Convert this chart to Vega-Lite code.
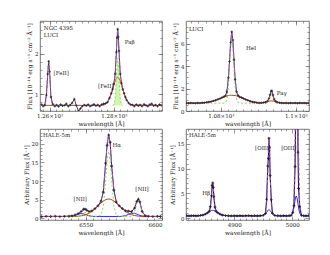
{
"$schema": "https://vega.github.io/schema/vega-lite/v6.json",
"padding": {"left": 22, "top": 20, "right": 0, "bottom": 0},
"config": {
  "view": {"stroke": "#555", "strokeWidth": 0.8},
  "axis": {"labelFont": "DejaVu Serif", "labelFontSize": 5.5, "titleFont": "DejaVu Serif", "titleFontSize": 6, "titleFontWeight": "normal", "labelColor": "#222", "titleColor": "#222", "tickColor": "#555", "tickWidth": 0.6, "grid": false, "domain": false, "labelPadding": 6, "tickSize": -4, "titlePadding": 2},
  "text": {"font": "DejaVu Serif", "fontSize": 5.5, "color": "#222"}
},
"datasets": {
  "p1": [
    {"x":12575,"y":0.74,"s":"o"},{"x":12580,"y":0.70,"s":"o"},{"x":12585,"y":0.73,"s":"o"},{"x":12590,"y":0.98,"s":"o"},{"x":12594,"y":1.50,"s":"o"},{"x":12597,"y":1.82,"s":"o"},{"x":12600,"y":1.56,"s":"o"},{"x":12604,"y":0.93,"s":"o"},{"x":12610,"y":0.75,"s":"o"},{"x":12616,"y":0.70,"s":"o"},{"x":12622,"y":0.73,"s":"o"},{"x":12628,"y":0.69,"s":"o"},{"x":12634,"y":0.74,"s":"o"},{"x":12640,"y":0.71,"s":"o"},{"x":12646,"y":0.72,"s":"o"},{"x":12652,"y":0.76,"s":"o"},{"x":12658,"y":0.70,"s":"o"},{"x":12664,"y":0.73,"s":"o"},{"x":12670,"y":0.78,"s":"o"},{"x":12677,"y":0.88,"s":"o"},{"x":12683,"y":0.72,"s":"o"},{"x":12690,"y":0.58,"s":"o"},{"x":12696,"y":0.64,"s":"o"},{"x":12702,"y":0.70,"s":"o"},{"x":12708,"y":0.73,"s":"o"},{"x":12714,"y":0.71,"s":"o"},{"x":12720,"y":0.74,"s":"o"},{"x":12726,"y":0.70,"s":"o"},{"x":12732,"y":0.72,"s":"o"},{"x":12738,"y":0.75,"s":"o"},{"x":12744,"y":0.71,"s":"o"},{"x":12750,"y":0.73,"s":"o"},{"x":12756,"y":0.70,"s":"o"},{"x":12762,"y":0.74,"s":"o"},{"x":12768,"y":0.76,"s":"o"},{"x":12774,"y":0.77,"s":"o"},{"x":12780,"y":0.80,"s":"o"},{"x":12786,"y":0.90,"s":"o"},{"x":12792,"y":1.02,"s":"o"},{"x":12796,"y":1.12,"s":"o"},{"x":12800,"y":1.25,"s":"o"},{"x":12804,"y":1.50,"s":"o"},{"x":12808,"y":2.05,"s":"o"},{"x":12810,"y":2.40,"s":"o"},{"x":12812,"y":2.62,"s":"o"},{"x":12814,"y":2.42,"s":"o"},{"x":12816,"y":2.08,"s":"o"},{"x":12820,"y":1.50,"s":"o"},{"x":12824,"y":1.27,"s":"o"},{"x":12828,"y":1.12,"s":"o"},{"x":12832,"y":1.02,"s":"o"},{"x":12836,"y":0.92,"s":"o"},{"x":12840,"y":0.85,"s":"o"},{"x":12846,"y":0.78,"s":"o"},{"x":12852,"y":0.74,"s":"o"},{"x":12858,"y":0.73,"s":"o"},{"x":12864,"y":0.70,"s":"o"},{"x":12870,"y":0.74,"s":"o"},{"x":12876,"y":0.71,"s":"o"},{"x":12882,"y":0.73,"s":"o"},{"x":12888,"y":0.70,"s":"o"},{"x":12894,"y":0.75,"s":"o"},{"x":12900,"y":0.72,"s":"o"},{"x":12906,"y":0.70,"s":"o"},{"x":12912,"y":0.74,"s":"o"},{"x":12918,"y":0.76,"s":"o"},{"x":12924,"y":0.71,"s":"o"},{"x":12930,"y":0.73,"s":"o"},{"x":12936,"y":0.70,"s":"o"},{"x":12942,"y":0.74,"s":"o"},{"x":12948,"y":0.72,"s":"o"},
    {"x":12575,"y":0.72,"s":"m"},{"x":12583,"y":0.72,"s":"m"},{"x":12588,"y":0.806,"s":"m"},{"x":12590,"y":0.96,"s":"m"},{"x":12592,"y":1.215,"s":"m"},{"x":12594,"y":1.53,"s":"m"},{"x":12596,"y":1.767,"s":"m"},{"x":12597,"y":1.80,"s":"m"},{"x":12598,"y":1.767,"s":"m"},{"x":12600,"y":1.53,"s":"m"},{"x":12602,"y":1.215,"s":"m"},{"x":12604,"y":0.96,"s":"m"},{"x":12606,"y":0.806,"s":"m"},{"x":12610,"y":0.73,"s":"m"},{"x":12620,"y":0.72,"s":"m"},{"x":12760,"y":0.72,"s":"m"},{"x":12770,"y":0.734,"s":"m"},{"x":12780,"y":0.79,"s":"m"},{"x":12788,"y":0.915,"s":"m"},{"x":12795,"y":1.088,"s":"m"},{"x":12800,"y":1.241,"s":"m"},{"x":12804,"y":1.487,"s":"m"},{"x":12808,"y":2.111,"s":"m"},{"x":12810,"y":2.45,"s":"m"},{"x":12812,"y":2.60,"s":"m"},{"x":12814,"y":2.45,"s":"m"},{"x":12816,"y":2.111,"s":"m"},{"x":12820,"y":1.487,"s":"m"},{"x":12824,"y":1.241,"s":"m"},{"x":12826,"y":1.173,"s":"m"},{"x":12832,"y":1.008,"s":"m"},{"x":12840,"y":0.843,"s":"m"},{"x":12850,"y":0.748,"s":"m"},{"x":12860,"y":0.724,"s":"m"},{"x":12948,"y":0.72,"s":"m"},
    {"x":12575,"y":0.72,"s":"b"},{"x":12760,"y":0.72,"s":"b"},{"x":12770,"y":0.734,"s":"b"},{"x":12780,"y":0.79,"s":"b"},{"x":12788,"y":0.915,"s":"b"},{"x":12795,"y":1.088,"s":"b"},{"x":12800,"y":1.228,"s":"b"},{"x":12804,"y":1.327,"s":"b"},{"x":12808,"y":1.395,"s":"b"},{"x":12812,"y":1.42,"s":"b"},{"x":12816,"y":1.395,"s":"b"},{"x":12820,"y":1.327,"s":"b"},{"x":12826,"y":1.173,"s":"b"},{"x":12832,"y":1.008,"s":"b"},{"x":12840,"y":0.843,"s":"b"},{"x":12850,"y":0.748,"s":"b"},{"x":12860,"y":0.724,"s":"b"},{"x":12948,"y":0.72,"s":"b"},
    {"x":12796,"y":0.72,"s":"n"},{"x":12800,"y":0.733,"s":"n"},{"x":12804,"y":0.88,"s":"n"},{"x":12808,"y":1.436,"s":"n"},{"x":12810,"y":1.76,"s":"n"},{"x":12812,"y":1.90,"s":"n"},{"x":12814,"y":1.76,"s":"n"},{"x":12816,"y":1.436,"s":"n"},{"x":12820,"y":0.88,"s":"n"},{"x":12824,"y":0.733,"s":"n"},{"x":12828,"y":0.72,"s":"n"}
  ],
  "t1": [
    {"x":12582,"y":2.65,"t":"NGC 4395"},{"x":12582,"y":2.47,"t":"LUCI"},{"x":12612,"y":1.53,"t":"[FeII]"},{"x":12751,"y":1.2,"t":"[FeII]"},{"x":12834,"y":2.3,"t":"Paβ"}
  ],
  "p2": [
    {"x":10708,"y":0.71,"s":"o"},{"x":10714,"y":0.69,"s":"o"},{"x":10720,"y":0.72,"s":"o"},{"x":10726,"y":0.70,"s":"o"},{"x":10732,"y":0.68,"s":"o"},{"x":10738,"y":0.72,"s":"o"},{"x":10744,"y":0.70,"s":"o"},{"x":10750,"y":0.73,"s":"o"},{"x":10756,"y":0.74,"s":"o"},{"x":10762,"y":0.77,"s":"o"},{"x":10768,"y":0.80,"s":"o"},{"x":10774,"y":0.84,"s":"o"},{"x":10780,"y":0.90,"s":"o"},{"x":10786,"y":0.95,"s":"o"},{"x":10792,"y":1.04,"s":"o"},{"x":10798,"y":1.10,"s":"o"},{"x":10803,"y":1.20,"s":"o"},{"x":10808,"y":1.26,"s":"o"},{"x":10812,"y":1.36,"s":"o"},{"x":10816,"y":1.72,"s":"o"},{"x":10820,"y":2.95,"s":"o"},{"x":10823,"y":4.40,"s":"o"},{"x":10826,"y":6.10,"s":"o"},{"x":10829,"y":7.05,"s":"o"},{"x":10832,"y":6.30,"s":"o"},{"x":10835,"y":4.55,"s":"o"},{"x":10838,"y":2.80,"s":"o"},{"x":10842,"y":1.72,"s":"o"},{"x":10846,"y":1.38,"s":"o"},{"x":10850,"y":1.25,"s":"o"},{"x":10855,"y":1.20,"s":"o"},{"x":10860,"y":1.12,"s":"o"},{"x":10866,"y":1.02,"s":"o"},{"x":10872,"y":0.95,"s":"o"},{"x":10878,"y":0.86,"s":"o"},{"x":10884,"y":0.80,"s":"o"},{"x":10890,"y":0.77,"s":"o"},{"x":10896,"y":0.74,"s":"o"},{"x":10902,"y":0.72,"s":"o"},{"x":10908,"y":0.73,"s":"o"},{"x":10914,"y":0.75,"s":"o"},{"x":10919,"y":0.78,"s":"o"},{"x":10924,"y":0.87,"s":"o"},{"x":10928,"y":1.10,"s":"o"},{"x":10931,"y":1.45,"s":"o"},{"x":10934,"y":1.78,"s":"o"},{"x":10936,"y":1.80,"s":"o"},{"x":10939,"y":1.42,"s":"o"},{"x":10942,"y":1.05,"s":"o"},{"x":10946,"y":0.86,"s":"o"},{"x":10950,"y":0.78,"s":"o"},{"x":10956,"y":0.74,"s":"o"},{"x":10962,"y":0.71,"s":"o"},{"x":10968,"y":0.70,"s":"o"},{"x":10974,"y":0.72,"s":"o"},{"x":10980,"y":0.69,"s":"o"},{"x":10986,"y":0.71,"s":"o"},{"x":10992,"y":0.70,"s":"o"},{"x":10998,"y":0.72,"s":"o"},{"x":11004,"y":0.69,"s":"o"},{"x":11010,"y":0.71,"s":"o"},{"x":11016,"y":0.70,"s":"o"},{"x":11022,"y":0.72,"s":"o"},{"x":11028,"y":0.69,"s":"o"},{"x":11034,"y":0.71,"s":"o"},
    {"x":10708,"y":0.70,"s":"m"},{"x":10720,"y":0.701,"s":"m"},{"x":10730,"y":0.703,"s":"m"},{"x":10740,"y":0.709,"s":"m"},{"x":10750,"y":0.722,"s":"m"},{"x":10760,"y":0.75,"s":"m"},{"x":10770,"y":0.80,"s":"m"},{"x":10780,"y":0.88,"s":"m"},{"x":10790,"y":1.00,"s":"m"},{"x":10800,"y":1.14,"s":"m"},{"x":10806,"y":1.22,"s":"m"},{"x":10812,"y":1.347,"s":"m"},{"x":10816,"y":1.68,"s":"m"},{"x":10820,"y":2.84,"s":"m"},{"x":10823,"y":4.476,"s":"m"},{"x":10826,"y":6.227,"s":"m"},{"x":10829,"y":7.0,"s":"m"},{"x":10832,"y":6.227,"s":"m"},{"x":10835,"y":4.476,"s":"m"},{"x":10838,"y":2.84,"s":"m"},{"x":10842,"y":1.68,"s":"m"},{"x":10846,"y":1.347,"s":"m"},{"x":10852,"y":1.22,"s":"m"},{"x":10860,"y":1.11,"s":"m"},{"x":10870,"y":0.975,"s":"m"},{"x":10880,"y":0.865,"s":"m"},{"x":10890,"y":0.789,"s":"m"},{"x":10900,"y":0.743,"s":"m"},{"x":10910,"y":0.718,"s":"m"},{"x":10918,"y":0.777,"s":"m"},{"x":10925,"y":0.881,"s":"m"},{"x":10930,"y":1.293,"s":"m"},{"x":10935,"y":1.80,"s":"m"},{"x":10940,"y":1.293,"s":"m"},{"x":10945,"y":0.881,"s":"m"},{"x":10952,"y":0.773,"s":"m"},{"x":10960,"y":0.723,"s":"m"},{"x":10970,"y":0.70,"s":"m"},{"x":11034,"y":0.70,"s":"m"},
    {"x":10708,"y":0.70,"s":"b"},{"x":10740,"y":0.709,"s":"b"},{"x":10760,"y":0.75,"s":"b"},{"x":10770,"y":0.80,"s":"b"},{"x":10780,"y":0.88,"s":"b"},{"x":10790,"y":1.00,"s":"b"},{"x":10800,"y":1.14,"s":"b"},{"x":10806,"y":1.22,"s":"b"},{"x":10812,"y":1.30,"s":"b"},{"x":10816,"y":1.34,"s":"b"},{"x":10820,"y":1.37,"s":"b"},{"x":10823,"y":1.386,"s":"b"},{"x":10826,"y":1.397,"s":"b"},{"x":10829,"y":1.40,"s":"b"},{"x":10832,"y":1.397,"s":"b"},{"x":10835,"y":1.386,"s":"b"},{"x":10838,"y":1.37,"s":"b"},{"x":10842,"y":1.34,"s":"b"},{"x":10846,"y":1.30,"s":"b"},{"x":10852,"y":1.22,"s":"b"},{"x":10860,"y":1.11,"s":"b"},{"x":10870,"y":0.975,"s":"b"},{"x":10880,"y":0.865,"s":"b"},{"x":10890,"y":0.789,"s":"b"},{"x":10900,"y":0.743,"s":"b"},{"x":10910,"y":0.718,"s":"b"},{"x":10918,"y":0.777,"s":"b"},{"x":10925,"y":0.841,"s":"b"},{"x":10930,"y":0.883,"s":"b"},{"x":10935,"y":0.90,"s":"b"},{"x":10940,"y":0.883,"s":"b"},{"x":10945,"y":0.841,"s":"b"},{"x":10952,"y":0.773,"s":"b"},{"x":10960,"y":0.723,"s":"b"},{"x":10970,"y":0.70,"s":"b"},{"x":11034,"y":0.70,"s":"b"},
    {"x":10708,"y":0.70,"s":"n"},{"x":10808,"y":0.70,"s":"n"},{"x":10812,"y":0.747,"s":"n"},{"x":10816,"y":1.04,"s":"n"},{"x":10820,"y":2.17,"s":"n"},{"x":10823,"y":3.79,"s":"n"},{"x":10826,"y":5.53,"s":"n"},{"x":10829,"y":6.30,"s":"n"},{"x":10832,"y":5.53,"s":"n"},{"x":10835,"y":3.79,"s":"n"},{"x":10838,"y":2.17,"s":"n"},{"x":10842,"y":1.04,"s":"n"},{"x":10846,"y":0.747,"s":"n"},{"x":10852,"y":0.70,"s":"n"},{"x":10920,"y":0.70,"s":"n"},{"x":10925,"y":0.74,"s":"n"},{"x":10930,"y":1.11,"s":"n"},{"x":10935,"y":1.60,"s":"n"},{"x":10940,"y":1.11,"s":"n"},{"x":10945,"y":0.74,"s":"n"},{"x":10952,"y":0.70,"s":"n"},{"x":11034,"y":0.70,"s":"n"}
  ],
  "t2": [
    {"x":10715,"y":7.3,"t":"LUCI"},{"x":10867,"y":5.6,"t":"HeI"},{"x":10949,"y":1.6,"t":"Paγ"}
  ],
  "p3": [
    {"x":6521,"y":0.40,"s":"o"},{"x":6524,"y":0.47,"s":"o"},{"x":6527,"y":0.44,"s":"o"},{"x":6530,"y":0.50,"s":"o"},{"x":6533,"y":0.43,"s":"o"},{"x":6536,"y":0.48,"s":"o"},{"x":6539,"y":0.52,"s":"o"},{"x":6541,"y":0.60,"s":"o"},{"x":6543,"y":0.85,"s":"o"},{"x":6545,"y":1.20,"s":"o"},{"x":6547,"y":1.80,"s":"o"},{"x":6548.5,"y":2.40,"s":"o"},{"x":6549.5,"y":2.45,"s":"o"},{"x":6550.5,"y":2.20,"s":"o"},{"x":6552,"y":1.80,"s":"o"},{"x":6554,"y":1.95,"s":"o"},{"x":6556,"y":2.55,"s":"o"},{"x":6558,"y":3.30,"s":"o"},{"x":6560,"y":4.60,"s":"o"},{"x":6561.5,"y":7.0,"s":"o"},{"x":6563,"y":14.8,"s":"o"},{"x":6564,"y":19.6,"s":"o"},{"x":6565,"y":22.4,"s":"o"},{"x":6566,"y":20.4,"s":"o"},{"x":6567,"y":14.0,"s":"o"},{"x":6568.5,"y":7.5,"s":"o"},{"x":6570,"y":4.3,"s":"o"},{"x":6572,"y":3.3,"s":"o"},{"x":6574,"y":2.6,"s":"o"},{"x":6576,"y":2.0,"s":"o"},{"x":6578,"y":1.9,"s":"o"},{"x":6580,"y":1.75,"s":"o"},{"x":6582,"y":2.7,"s":"o"},{"x":6583.5,"y":4.5,"s":"o"},{"x":6584.5,"y":5.1,"s":"o"},{"x":6585.5,"y":4.4,"s":"o"},{"x":6587,"y":1.8,"s":"o"},{"x":6589,"y":0.62,"s":"o"},{"x":6591,"y":0.48,"s":"o"},{"x":6594,"y":0.43,"s":"o"},{"x":6597,"y":0.47,"s":"o"},{"x":6599,"y":0.44,"s":"o"},
    {"x":6521,"y":0.45,"s":"m"},{"x":6535,"y":0.45,"s":"m"},{"x":6540,"y":0.51,"s":"m"},{"x":6543,"y":0.81,"s":"m"},{"x":6545,"y":1.18,"s":"m"},{"x":6547,"y":1.69,"s":"m"},{"x":6548.5,"y":2.32,"s":"m"},{"x":6549.5,"y":2.52,"s":"m"},{"x":6550.5,"y":2.29,"s":"m"},{"x":6552,"y":1.76,"s":"m"},{"x":6554,"y":1.88,"s":"m"},{"x":6556,"y":2.52,"s":"m"},{"x":6558,"y":3.31,"s":"m"},{"x":6560,"y":4.46,"s":"m"},{"x":6561.5,"y":7.26,"s":"m"},{"x":6563,"y":14.42,"s":"m"},{"x":6564,"y":20.1,"s":"m"},{"x":6565,"y":22.65,"s":"m"},{"x":6566,"y":20.1,"s":"m"},{"x":6567,"y":14.42,"s":"m"},{"x":6568.5,"y":7.26,"s":"m"},{"x":6570,"y":4.46,"s":"m"},{"x":6572,"y":3.30,"s":"m"},{"x":6574,"y":2.57,"s":"m"},{"x":6576,"y":2.04,"s":"m"},{"x":6578,"y":1.84,"s":"m"},{"x":6580,"y":1.82,"s":"m"},{"x":6582,"y":2.62,"s":"m"},{"x":6583.5,"y":4.67,"s":"m"},{"x":6584.5,"y":5.31,"s":"m"},{"x":6585.5,"y":4.24,"s":"m"},{"x":6587,"y":1.67,"s":"m"},{"x":6589,"y":0.54,"s":"m"},{"x":6592,"y":0.45,"s":"m"},{"x":6599,"y":0.45,"s":"m"},
    {"x":6521,"y":0.45,"s":"b"},{"x":6535,"y":0.45,"s":"b"},{"x":6540,"y":0.458,"s":"b"},{"x":6543,"y":0.484,"s":"b"},{"x":6545,"y":0.53,"s":"b"},{"x":6547,"y":0.62,"s":"b"},{"x":6548.5,"y":0.74,"s":"b"},{"x":6549.5,"y":0.85,"s":"b"},{"x":6550.5,"y":1.00,"s":"b"},{"x":6552,"y":1.29,"s":"b"},{"x":6554,"y":1.82,"s":"b"},{"x":6556,"y":2.51,"s":"b"},{"x":6558,"y":3.30,"s":"b"},{"x":6560,"y":4.09,"s":"b"},{"x":6561.5,"y":4.60,"s":"b"},{"x":6563,"y":4.96,"s":"b"},{"x":6564,"y":5.10,"s":"b"},{"x":6565,"y":5.15,"s":"b"},{"x":6566,"y":5.10,"s":"b"},{"x":6567,"y":4.96,"s":"b"},{"x":6568.5,"y":4.60,"s":"b"},{"x":6570,"y":4.09,"s":"b"},{"x":6572,"y":3.30,"s":"b"},{"x":6574,"y":2.51,"s":"b"},{"x":6576,"y":1.82,"s":"b"},{"x":6578,"y":1.29,"s":"b"},{"x":6580,"y":0.92,"s":"b"},{"x":6582,"y":0.70,"s":"b"},{"x":6584.5,"y":0.547,"s":"b"},{"x":6587,"y":0.484,"s":"b"},{"x":6589,"y":0.463,"s":"b"},{"x":6592,"y":0.45,"s":"b"},{"x":6599,"y":0.45,"s":"b"},
    {"x":6521,"y":0.45,"s":"n"},{"x":6545,"y":0.46,"s":"n"},{"x":6547,"y":0.72,"s":"n"},{"x":6548.5,"y":1.33,"s":"n"},{"x":6549.5,"y":1.55,"s":"n"},{"x":6550.5,"y":1.33,"s":"n"},{"x":6552,"y":0.72,"s":"n"},{"x":6554,"y":0.46,"s":"n"},{"x":6558,"y":0.46,"s":"n"},{"x":6560,"y":0.82,"s":"n"},{"x":6561.5,"y":3.11,"s":"n"},{"x":6563,"y":9.91,"s":"n"},{"x":6564,"y":15.45,"s":"n"},{"x":6565,"y":17.95,"s":"n"},{"x":6566,"y":15.45,"s":"n"},{"x":6567,"y":9.91,"s":"n"},{"x":6568.5,"y":3.11,"s":"n"},{"x":6570,"y":0.82,"s":"n"},{"x":6572,"y":0.45,"s":"n"},{"x":6580,"y":0.50,"s":"n"},{"x":6582,"y":1.52,"s":"n"},{"x":6583.5,"y":3.89,"s":"n"},{"x":6584.5,"y":4.75,"s":"n"},{"x":6585.5,"y":3.89,"s":"n"},{"x":6587,"y":1.52,"s":"n"},{"x":6589,"y":0.50,"s":"n"},{"x":6599,"y":0.45,"s":"n"},
    {"x":6521,"y":0.45,"s":"u"},{"x":6538,"y":0.45,"s":"u"},{"x":6540,"y":0.50,"s":"u"},{"x":6543,"y":0.78,"s":"u"},{"x":6545,"y":1.09,"s":"u"},{"x":6547,"y":1.25,"s":"u"},{"x":6548.5,"y":1.15,"s":"u"},{"x":6549.5,"y":1.02,"s":"u"},{"x":6550.5,"y":0.86,"s":"u"},{"x":6552,"y":0.65,"s":"u"},{"x":6554,"y":0.50,"s":"u"},{"x":6556,"y":0.46,"s":"u"},{"x":6572,"y":0.45,"s":"u"},{"x":6574,"y":0.51,"s":"u"},{"x":6576,"y":0.67,"s":"u"},{"x":6578,"y":1.00,"s":"u"},{"x":6580,"y":1.30,"s":"u"},{"x":6582,"y":1.30,"s":"u"},{"x":6583.5,"y":1.09,"s":"u"},{"x":6584.5,"y":0.91,"s":"u"},{"x":6585.5,"y":0.74,"s":"u"},{"x":6587,"y":0.57,"s":"u"},{"x":6589,"y":0.48,"s":"u"},{"x":6599,"y":0.45,"s":"u"}
  ],
  "t3": [
    {"x":6522,"y":22.4,"t":"HALE-5m"},{"x":6567.5,"y":19.7,"t":"Hα"},{"x":6542,"y":5.2,"t":"[NII]"},{"x":6582.5,"y":7.8,"t":"[NII]"}
  ],
  "p4": [
    {"x":4818,"y":0.48,"s":"o"},{"x":4822,"y":0.42,"s":"o"},{"x":4826,"y":0.46,"s":"o"},{"x":4830,"y":0.50,"s":"o"},{"x":4834,"y":0.44,"s":"o"},{"x":4838,"y":0.47,"s":"o"},{"x":4842,"y":0.52,"s":"o"},{"x":4846,"y":0.60,"s":"o"},{"x":4850,"y":0.78,"s":"o"},{"x":4854,"y":1.05,"s":"o"},{"x":4857,"y":1.35,"s":"o"},{"x":4859,"y":2.3,"s":"o"},{"x":4861,"y":4.5,"s":"o"},{"x":4862,"y":6.6,"s":"o"},{"x":4863,"y":7.1,"s":"o"},{"x":4864,"y":6.2,"s":"o"},{"x":4865,"y":4.3,"s":"o"},{"x":4867,"y":2.2,"s":"o"},{"x":4869,"y":1.35,"s":"o"},{"x":4872,"y":1.05,"s":"o"},{"x":4876,"y":0.78,"s":"o"},{"x":4880,"y":0.58,"s":"o"},{"x":4885,"y":0.50,"s":"o"},{"x":4890,"y":0.46,"s":"o"},{"x":4895,"y":0.42,"s":"o"},{"x":4900,"y":0.47,"s":"o"},{"x":4905,"y":0.44,"s":"o"},{"x":4910,"y":0.49,"s":"o"},{"x":4915,"y":0.43,"s":"o"},{"x":4920,"y":0.46,"s":"o"},{"x":4925,"y":0.50,"s":"o"},{"x":4930,"y":0.44,"s":"o"},{"x":4935,"y":0.47,"s":"o"},{"x":4940,"y":0.43,"s":"o"},{"x":4945,"y":0.48,"s":"o"},{"x":4950,"y":0.55,"s":"o"},{"x":4954,"y":0.92,"s":"o"},{"x":4956,"y":3.8,"s":"o"},{"x":4958,"y":10.5,"s":"o"},{"x":4959,"y":12.0,"s":"o"},{"x":4960,"y":16.1,"s":"o"},{"x":4961,"y":14.3,"s":"o"},{"x":4962,"y":8.6,"s":"o"},{"x":4964,"y":3.7,"s":"o"},{"x":4966,"y":0.95,"s":"o"},{"x":4970,"y":0.52,"s":"o"},{"x":4975,"y":0.46,"s":"o"},{"x":4980,"y":0.43,"s":"o"},{"x":4985,"y":0.48,"s":"o"},{"x":4990,"y":0.44,"s":"o"},{"x":4995,"y":0.47,"s":"o"},{"x":4998,"y":0.52,"s":"o"},{"x":5001,"y":1.1,"s":"o"},{"x":5003,"y":2.5,"s":"o"},{"x":5005,"y":10.4,"s":"o"},{"x":5006,"y":20.0,"s":"o"},{"x":5007,"y":35.0,"s":"o"},{"x":5008,"y":45.0,"s":"o"},{"x":5009,"y":40.0,"s":"o"},{"x":5010,"y":13.3,"s":"o"},{"x":5011,"y":6.0,"s":"o"},{"x":5013,"y":2.3,"s":"o"},{"x":5016,"y":0.55,"s":"o"},{"x":5020,"y":0.46,"s":"o"},{"x":5024,"y":0.43,"s":"o"},{"x":5028,"y":0.47,"s":"o"},
    {"x":4818,"y":0.45,"s":"m"},{"x":4832,"y":0.45,"s":"m"},{"x":4840,"y":0.47,"s":"m"},{"x":4846,"y":0.57,"s":"m"},{"x":4850,"y":0.74,"s":"m"},{"x":4854,"y":1.03,"s":"m"},{"x":4857,"y":1.30,"s":"m"},{"x":4859,"y":1.90,"s":"m"},{"x":4861,"y":4.60,"s":"m"},{"x":4862,"y":6.42,"s":"m"},{"x":4863,"y":7.25,"s":"m"},{"x":4864,"y":6.42,"s":"m"},{"x":4865,"y":4.60,"s":"m"},{"x":4867,"y":1.90,"s":"m"},{"x":4869,"y":1.30,"s":"m"},{"x":4872,"y":1.03,"s":"m"},{"x":4876,"y":0.74,"s":"m"},{"x":4882,"y":0.52,"s":"m"},{"x":4890,"y":0.45,"s":"m"},{"x":4946,"y":0.45,"s":"m"},{"x":4950,"y":0.50,"s":"m"},{"x":4954,"y":0.90,"s":"m"},{"x":4956,"y":2.42,"s":"m"},{"x":4958,"y":9.39,"s":"m"},{"x":4959,"y":14.11,"s":"m"},{"x":4960,"y":16.25,"s":"m"},{"x":4961,"y":14.11,"s":"m"},{"x":4962,"y":9.39,"s":"m"},{"x":4964,"y":2.42,"s":"m"},{"x":4966,"y":0.90,"s":"m"},{"x":4970,"y":0.50,"s":"m"},{"x":4976,"y":0.45,"s":"m"},{"x":4992,"y":0.45,"s":"m"},{"x":4998,"y":0.49,"s":"m"},{"x":5001,"y":1.02,"s":"m"},{"x":5003,"y":3.09,"s":"m"},{"x":5005,"y":15.45,"s":"m"},{"x":5006,"y":29.6,"s":"m"},{"x":5007,"y":44.8,"s":"m"},{"x":5008,"y":51.2,"s":"m"},{"x":5009,"y":43.95,"s":"m"},{"x":5010,"y":28.3,"s":"m"},{"x":5011,"y":13.9,"s":"m"},{"x":5013,"y":1.99,"s":"m"},{"x":5016,"y":0.49,"s":"m"},{"x":5020,"y":0.45,"s":"m"},{"x":5028,"y":0.45,"s":"m"},
    {"x":4818,"y":0.45,"s":"u"},{"x":4832,"y":0.45,"s":"u"},{"x":4840,"y":0.468,"s":"u"},{"x":4846,"y":0.565,"s":"u"},{"x":4850,"y":0.74,"s":"u"},{"x":4854,"y":1.03,"s":"u"},{"x":4857,"y":1.28,"s":"u"},{"x":4859,"y":1.42,"s":"u"},{"x":4861,"y":1.52,"s":"u"},{"x":4862,"y":1.54,"s":"u"},{"x":4863,"y":1.55,"s":"u"},{"x":4864,"y":1.54,"s":"u"},{"x":4865,"y":1.52,"s":"u"},{"x":4867,"y":1.42,"s":"u"},{"x":4869,"y":1.28,"s":"u"},{"x":4872,"y":1.03,"s":"u"},{"x":4876,"y":0.74,"s":"u"},{"x":4882,"y":0.516,"s":"u"},{"x":4890,"y":0.45,"s":"u"},{"x":4946,"y":0.45,"s":"u"},{"x":4950,"y":0.50,"s":"u"},{"x":4954,"y":0.84,"s":"u"},{"x":4956,"y":1.18,"s":"u"},{"x":4958,"y":1.51,"s":"u"},{"x":4959,"y":1.61,"s":"u"},{"x":4960,"y":1.65,"s":"u"},{"x":4961,"y":1.61,"s":"u"},{"x":4962,"y":1.51,"s":"u"},{"x":4964,"y":1.18,"s":"u"},{"x":4966,"y":0.84,"s":"u"},{"x":4970,"y":0.50,"s":"u"},{"x":4976,"y":0.45,"s":"u"},{"x":4996,"y":0.45,"s":"u"},{"x":4998,"y":0.49,"s":"u"},{"x":5001,"y":0.99,"s":"u"},{"x":5003,"y":2.09,"s":"u"},{"x":5005,"y":3.65,"s":"u"},{"x":5006,"y":4.23,"s":"u"},{"x":5007,"y":4.45,"s":"u"},{"x":5008,"y":4.23,"s":"u"},{"x":5009,"y":3.65,"s":"u"},{"x":5010,"y":2.88,"s":"u"},{"x":5011,"y":2.09,"s":"u"},{"x":5013,"y":0.99,"s":"u"},{"x":5016,"y":0.49,"s":"u"},{"x":5020,"y":0.45,"s":"u"},{"x":5028,"y":0.45,"s":"u"}
  ],
  "t4": [
    {"x":4822,"y":16.8,"t":"HALE-5m"},{"x":4845,"y":5.1,"t":"Hβ"},{"x":4936,"y":14.2,"t":"[OIII]"},{"x":4981,"y":14.2,"t":"[OIII]"}
  ]
},
"columns": 2,
"spacing": {"row": 18, "column": 24},
"bounds": "flush",
"concat": [
  {
    "width": 122, "height": 90,
    "resolve": {"axis": {"x": "independent", "y": "independent"}},
    "layer": [
      {"data": {"name": "p1"}, "transform": [{"filter": "datum.s == 'n'"}],
       "mark": {"type": "area", "color": "#c4f59a", "opacity": 0.8, "clip": true},
       "encoding": {
         "x": {"field": "x", "type": "quantitative", "scale": {"domain": [12570, 12950], "nice": false, "zero": false}, "axis": {"values": [12600, 12800], "labelExpr": "datum.value == 12600 ? '1.26×10⁴' : '1.28×10⁴'", "title": "wavelength [Å]"}},
         "y": {"field": "y", "type": "quantitative", "scale": {"domain": [0.58, 2.82], "nice": false, "zero": false}, "axis": {"values": [1, 2], "title": "Flux [10⁻¹⁴ erg s⁻¹ cm⁻² Å⁻¹]"}},
         "y2": {"datum": 0.72}}},
      {"data": {"name": "p1"}, "transform": [{"filter": "datum.s == 'o'"}],
       "mark": {"type": "line", "color": "#111", "strokeWidth": 0.8, "clip": true},
       "encoding": {
         "x": {"field": "x", "type": "quantitative", "scale": {"domain": [12570, 12950], "nice": false, "zero": false}, "axis": {"orient": "bottom", "values": [12580,12600,12620,12640,12660,12680,12700,12720,12740,12760,12780,12800,12820,12840,12860,12880,12900,12920,12940], "labels": false, "tickSize": -2, "title": null}},
         "y": {"field": "y", "type": "quantitative", "scale": {"domain": [0.58, 2.82], "nice": false, "zero": false}, "axis": {"orient": "left", "values": [0.6,0.8,1.0,1.2,1.4,1.6,1.8,2.0,2.2,2.4,2.6,2.8], "labels": false, "tickSize": -2, "title": null}}}},
      {"data": {"name": "p1"}, "transform": [{"filter": "datum.s == 'b'"}],
       "mark": {"type": "line", "color": "#d04a20", "strokeWidth": 1, "clip": true},
       "encoding": {
         "x": {"field": "x", "type": "quantitative", "scale": {"domain": [12570, 12950], "nice": false, "zero": false}, "axis": {"orient": "top", "values": [12600, 12800], "labels": false, "title": null}},
         "y": {"field": "y", "type": "quantitative", "scale": {"domain": [0.58, 2.82], "nice": false, "zero": false}, "axis": {"orient": "right", "values": [1, 2], "labels": false, "title": null}}}},
      {"data": {"name": "p1"}, "transform": [{"filter": "datum.s == 'n'"}],
       "mark": {"type": "line", "color": "#7ad83c", "strokeWidth": 0.9, "strokeDash": [2, 2], "clip": true},
       "encoding": {
         "x": {"field": "x", "type": "quantitative", "scale": {"domain": [12570, 12950], "nice": false, "zero": false}, "axis": {"orient": "top", "values": [12580,12600,12620,12640,12660,12680,12700,12720,12740,12760,12780,12800,12820,12840,12860,12880,12900,12920,12940], "labels": false, "tickSize": -2, "title": null}},
         "y": {"field": "y", "type": "quantitative", "scale": {"domain": [0.58, 2.82], "nice": false, "zero": false}, "axis": {"orient": "right", "values": [0.6,0.8,1.0,1.2,1.4,1.6,1.8,2.0,2.2,2.4,2.6,2.8], "labels": false, "tickSize": -2, "title": null}}}},
      {"data": {"name": "p1"}, "transform": [{"filter": "datum.s == 'm'"}],
       "mark": {"type": "line", "color": "#b44ad8", "strokeWidth": 1, "strokeDash": [3, 2], "clip": true},
       "encoding": {
         "x": {"field": "x", "type": "quantitative", "scale": {"domain": [12570, 12950], "nice": false, "zero": false}, "axis": null},
         "y": {"field": "y", "type": "quantitative", "scale": {"domain": [0.58, 2.82], "nice": false, "zero": false}, "axis": null}}},
      {"data": {"name": "p1"}, "transform": [{"filter": "datum.s == 'o'"}],
       "mark": {"type": "point", "shape": "cross", "filled": true, "size": 6, "color": "#111", "clip": true},
       "encoding": {
         "x": {"field": "x", "type": "quantitative", "scale": {"domain": [12570, 12950], "nice": false, "zero": false}, "axis": null},
         "y": {"field": "y", "type": "quantitative", "scale": {"domain": [0.58, 2.82], "nice": false, "zero": false}, "axis": null}}},
      {"data": {"name": "t1"},
       "mark": {"type": "text", "align": "left", "baseline": "middle", "clip": true},
       "encoding": {
         "x": {"field": "x", "type": "quantitative", "scale": {"domain": [12570, 12950], "nice": false, "zero": false}, "axis": null},
         "y": {"field": "y", "type": "quantitative", "scale": {"domain": [0.58, 2.82], "nice": false, "zero": false}, "axis": null},
         "text": {"field": "t"}}}
    ]
  },
  {
    "width": 123, "height": 90,
    "resolve": {"axis": {"x": "independent", "y": "independent"}},
    "layer": [
      {"data": {"name": "p2"}, "transform": [{"filter": "datum.s == 'o'"}],
       "mark": {"type": "line", "color": "#111", "strokeWidth": 0.8, "clip": true},
       "encoding": {
         "x": {"field": "x", "type": "quantitative", "scale": {"domain": [10707, 11035], "nice": false, "zero": false}, "axis": {"values": [10800, 11000], "labelExpr": "datum.value == 10800 ? '1.08×10⁴' : '1.1×10⁴'", "title": "wavelength [Å]"}},
         "y": {"field": "y", "type": "quantitative", "scale": {"domain": [0, 8], "nice": false, "zero": false}, "axis": {"values": [0, 2, 4, 6], "title": "Flux [10⁻¹⁴ erg s⁻¹ cm⁻² Å⁻¹]"}}}},
      {"data": {"name": "p2"}, "transform": [{"filter": "datum.s == 'b'"}],
       "mark": {"type": "line", "color": "#c8321e", "strokeWidth": 1, "clip": true},
       "encoding": {
         "x": {"field": "x", "type": "quantitative", "scale": {"domain": [10707, 11035], "nice": false, "zero": false}, "axis": {"orient": "bottom", "values": [10720,10740,10760,10780,10800,10820,10840,10860,10880,10900,10920,10940,10960,10980,11000,11020], "labels": false, "tickSize": -2, "title": null}},
         "y": {"field": "y", "type": "quantitative", "scale": {"domain": [0, 8], "nice": false, "zero": false}, "axis": {"orient": "left", "values": [0.5,1,1.5,2,2.5,3,3.5,4,4.5,5,5.5,6,6.5,7,7.5], "labels": false, "tickSize": -2, "title": null}}}},
      {"data": {"name": "p2"}, "transform": [{"filter": "datum.s == 'n'"}],
       "mark": {"type": "line", "color": "#7ad83c", "strokeWidth": 0.9, "strokeDash": [2, 2], "clip": true},
       "encoding": {
         "x": {"field": "x", "type": "quantitative", "scale": {"domain": [10707, 11035], "nice": false, "zero": false}, "axis": {"orient": "top", "values": [10800, 11000], "labels": false, "title": null}},
         "y": {"field": "y", "type": "quantitative", "scale": {"domain": [0, 8], "nice": false, "zero": false}, "axis": {"orient": "right", "values": [0, 2, 4, 6], "labels": false, "title": null}}}},
      {"data": {"name": "p2"}, "transform": [{"filter": "datum.s == 'm'"}],
       "mark": {"type": "line", "color": "#b44ad8", "strokeWidth": 1, "strokeDash": [3, 2], "clip": true},
       "encoding": {
         "x": {"field": "x", "type": "quantitative", "scale": {"domain": [10707, 11035], "nice": false, "zero": false}, "axis": {"orient": "top", "values": [10720,10740,10760,10780,10800,10820,10840,10860,10880,10900,10920,10940,10960,10980,11000,11020], "labels": false, "tickSize": -2, "title": null}},
         "y": {"field": "y", "type": "quantitative", "scale": {"domain": [0, 8], "nice": false, "zero": false}, "axis": {"orient": "right", "values": [0.5,1,1.5,2,2.5,3,3.5,4,4.5,5,5.5,6,6.5,7,7.5], "labels": false, "tickSize": -2, "title": null}}}},
      {"data": {"name": "p2"}, "transform": [{"filter": "datum.s == 'o'"}],
       "mark": {"type": "point", "shape": "cross", "filled": true, "size": 6, "color": "#111", "clip": true},
       "encoding": {
         "x": {"field": "x", "type": "quantitative", "scale": {"domain": [10707, 11035], "nice": false, "zero": false}, "axis": null},
         "y": {"field": "y", "type": "quantitative", "scale": {"domain": [0, 8], "nice": false, "zero": false}, "axis": null}}},
      {"data": {"name": "t2"},
       "mark": {"type": "text", "align": "left", "baseline": "middle", "clip": true},
       "encoding": {
         "x": {"field": "x", "type": "quantitative", "scale": {"domain": [10707, 11035], "nice": false, "zero": false}, "axis": null},
         "y": {"field": "y", "type": "quantitative", "scale": {"domain": [0, 8], "nice": false, "zero": false}, "axis": null},
         "text": {"field": "t"}}}
    ]
  },
  {
    "width": 122, "height": 91,
    "resolve": {"axis": {"x": "independent", "y": "independent"}},
    "layer": [
      {"data": {"name": "p3"}, "transform": [{"filter": "datum.s == 'o'"}],
       "mark": {"type": "line", "color": "#151540", "strokeWidth": 0.9, "clip": true},
       "encoding": {
         "x": {"field": "x", "type": "quantitative", "scale": {"domain": [6520, 6600], "nice": false, "zero": false}, "axis": {"values": [6550, 6600], "format": "d", "title": "wavelength [Å]"}},
         "y": {"field": "y", "type": "quantitative", "scale": {"domain": [-0.5, 24], "nice": false, "zero": false}, "axis": {"values": [0, 5, 10, 15, 20], "title": "Arbitrary Flux [Å⁻¹]"}}}},
      {"data": {"name": "p3"}, "transform": [{"filter": "datum.s == 'u'"}],
       "mark": {"type": "line", "color": "#2c2ce0", "strokeWidth": 1, "clip": true},
       "encoding": {
         "x": {"field": "x", "type": "quantitative", "scale": {"domain": [6520, 6600], "nice": false, "zero": false}, "axis": {"orient": "bottom", "values": [6525,6530,6535,6540,6545,6550,6555,6560,6565,6570,6575,6580,6585,6590,6595], "labels": false, "tickSize": -2, "title": null}},
         "y": {"field": "y", "type": "quantitative", "scale": {"domain": [-0.5, 24], "nice": false, "zero": false}, "axis": {"orient": "left", "values": [1,2,3,4,6,7,8,9,11,12,13,14,16,17,18,19,21,22,23], "labels": false, "tickSize": -2, "title": null}}}},
      {"data": {"name": "p3"}, "transform": [{"filter": "datum.s == 'b'"}],
       "mark": {"type": "line", "color": "#c8321e", "strokeWidth": 1, "clip": true},
       "encoding": {
         "x": {"field": "x", "type": "quantitative", "scale": {"domain": [6520, 6600], "nice": false, "zero": false}, "axis": {"orient": "top", "values": [6550], "labels": false, "title": null}},
         "y": {"field": "y", "type": "quantitative", "scale": {"domain": [-0.5, 24], "nice": false, "zero": false}, "axis": {"orient": "right", "values": [0, 5, 10, 15, 20], "labels": false, "title": null}}}},
      {"data": {"name": "p3"}, "transform": [{"filter": "datum.s == 'n'"}],
       "mark": {"type": "line", "color": "#7ad83c", "strokeWidth": 0.9, "strokeDash": [2, 2], "clip": true},
       "encoding": {
         "x": {"field": "x", "type": "quantitative", "scale": {"domain": [6520, 6600], "nice": false, "zero": false}, "axis": {"orient": "top", "values": [6525,6530,6535,6540,6545,6550,6555,6560,6565,6570,6575,6580,6585,6590,6595], "labels": false, "tickSize": -2, "title": null}},
         "y": {"field": "y", "type": "quantitative", "scale": {"domain": [-0.5, 24], "nice": false, "zero": false}, "axis": {"orient": "right", "values": [1,2,3,4,6,7,8,9,11,12,13,14,16,17,18,19,21,22,23], "labels": false, "tickSize": -2, "title": null}}}},
      {"data": {"name": "p3"}, "transform": [{"filter": "datum.s == 'm'"}],
       "mark": {"type": "line", "color": "#b44ad8", "strokeWidth": 1, "strokeDash": [3, 2], "clip": true},
       "encoding": {
         "x": {"field": "x", "type": "quantitative", "scale": {"domain": [6520, 6600], "nice": false, "zero": false}, "axis": null},
         "y": {"field": "y", "type": "quantitative", "scale": {"domain": [-0.5, 24], "nice": false, "zero": false}, "axis": null}}},
      {"data": {"name": "p3"}, "transform": [{"filter": "datum.s == 'o'"}],
       "mark": {"type": "point", "shape": "cross", "filled": true, "size": 8, "color": "#111", "clip": true},
       "encoding": {
         "x": {"field": "x", "type": "quantitative", "scale": {"domain": [6520, 6600], "nice": false, "zero": false}, "axis": null},
         "y": {"field": "y", "type": "quantitative", "scale": {"domain": [-0.5, 24], "nice": false, "zero": false}, "axis": null}}},
      {"data": {"name": "t3"},
       "mark": {"type": "text", "align": "left", "baseline": "middle", "clip": true},
       "encoding": {
         "x": {"field": "x", "type": "quantitative", "scale": {"domain": [6520, 6600], "nice": false, "zero": false}, "axis": null},
         "y": {"field": "y", "type": "quantitative", "scale": {"domain": [-0.5, 24], "nice": false, "zero": false}, "axis": null},
         "text": {"field": "t"}}}
    ]
  },
  {
    "width": 123, "height": 91,
    "resolve": {"axis": {"x": "independent", "y": "independent"}},
    "layer": [
      {"data": {"name": "p4"}, "transform": [{"filter": "datum.s == 'o'"}],
       "mark": {"type": "line", "color": "#151540", "strokeWidth": 1.1, "clip": true},
       "encoding": {
         "x": {"field": "x", "type": "quantitative", "scale": {"domain": [4817, 5029], "nice": false, "zero": false}, "axis": {"values": [4900, 5000], "format": "d", "title": "wavelength [Å]"}},
         "y": {"field": "y", "type": "quantitative", "scale": {"domain": [-0.4, 18], "nice": false, "zero": false}, "axis": {"values": [0, 5, 10, 15], "title": "Arbitrary Flux [Å⁻¹]"}}}},
      {"data": {"name": "p4"}, "transform": [{"filter": "datum.s == 'u'"}],
       "mark": {"type": "line", "color": "#2c2ce0", "strokeWidth": 1, "clip": true},
       "encoding": {
         "x": {"field": "x", "type": "quantitative", "scale": {"domain": [4817, 5029], "nice": false, "zero": false}, "axis": {"orient": "bottom", "values": [4820,4830,4840,4850,4860,4870,4880,4890,4910,4920,4930,4940,4950,4960,4970,4980,4990,5010,5020], "labels": false, "tickSize": -2, "title": null}},
         "y": {"field": "y", "type": "quantitative", "scale": {"domain": [-0.4, 18], "nice": false, "zero": false}, "axis": {"orient": "left", "values": [1,2,3,4,6,7,8,9,11,12,13,14,16,17], "labels": false, "tickSize": -2, "title": null}}}},
      {"data": {"name": "p4"}, "transform": [{"filter": "datum.s == 'm'"}],
       "mark": {"type": "line", "color": "#b44ad8", "strokeWidth": 1, "strokeDash": [3, 2], "clip": true},
       "encoding": {
         "x": {"field": "x", "type": "quantitative", "scale": {"domain": [4817, 5029], "nice": false, "zero": false}, "axis": {"orient": "top", "values": [4900, 5000], "labels": false, "title": null}},
         "y": {"field": "y", "type": "quantitative", "scale": {"domain": [-0.4, 18], "nice": false, "zero": false}, "axis": {"orient": "right", "values": [0, 5, 10, 15], "labels": false, "title": null}}}},
      {"data": {"name": "p4"}, "transform": [{"filter": "datum.s == 'o'"}],
       "mark": {"type": "point", "shape": "cross", "filled": true, "size": 8, "color": "#111", "clip": true},
       "encoding": {
         "x": {"field": "x", "type": "quantitative", "scale": {"domain": [4817, 5029], "nice": false, "zero": false}, "axis": {"orient": "top", "values": [4820,4830,4840,4850,4860,4870,4880,4890,4910,4920,4930,4940,4950,4960,4970,4980,4990,5010,5020], "labels": false, "tickSize": -2, "title": null}},
         "y": {"field": "y", "type": "quantitative", "scale": {"domain": [-0.4, 18], "nice": false, "zero": false}, "axis": {"orient": "right", "values": [1,2,3,4,6,7,8,9,11,12,13,14,16,17], "labels": false, "tickSize": -2, "title": null}}}},
      {"data": {"name": "t4"},
       "mark": {"type": "text", "align": "left", "baseline": "middle", "clip": true},
       "encoding": {
         "x": {"field": "x", "type": "quantitative", "scale": {"domain": [4817, 5029], "nice": false, "zero": false}, "axis": null},
         "y": {"field": "y", "type": "quantitative", "scale": {"domain": [-0.4, 18], "nice": false, "zero": false}, "axis": null},
         "text": {"field": "t"}}}
    ]
  }
]
}
